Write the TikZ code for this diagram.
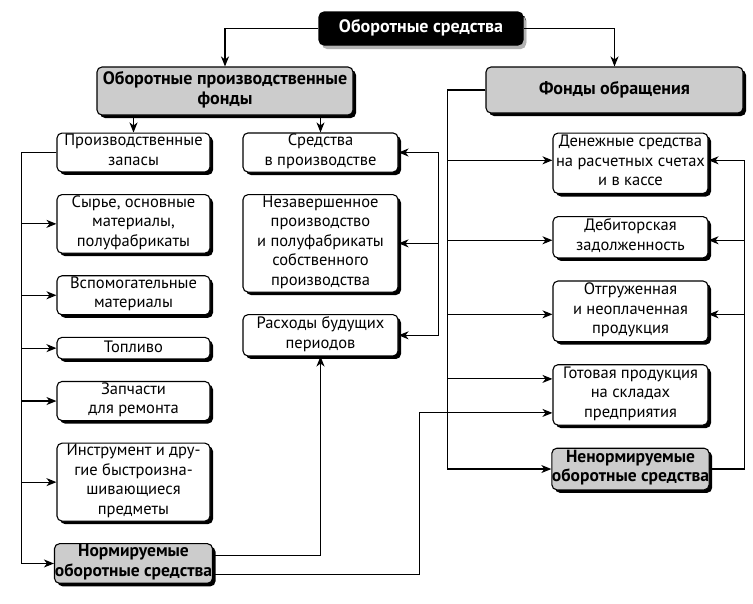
\documentclass[tikz,border=0pt]{standalone}
\usepackage{fontspec}
\setmainfont{PT Sans}
\usepackage{tikz}
\usetikzlibrary{positioning, arrows.meta, shadows}

\begin{document}
\begin{tikzpicture}[
        x=1pt, y=-1pt,
        node distance=21.5pt,
        >={Stealth[length=10pt, width=8pt, inset=3pt]},
        line width=1.1pt,
        box/.style={rectangle, draw, rounded corners=5pt, fill=white, minimum width=153pt, align=center, inner xsep=0pt, inner ysep=1pt, font=\fontsize{16.5}{19.5}\selectfont, execute at begin node=\strut, execute at end node=\strut, drop shadow={shadow xshift=3pt, shadow yshift=-3pt, fill=black, opacity=1}},
        midbox/.style={box, minimum width=155pt},
        rbox/.style={midbox, inner ysep=2pt},
        graybox/.style={box, fill=black!20, font=\fontsize{17.5}{19.5}\selectfont\bfseries},
        headbox/.style={graybox, font=\fontsize{18}{20}\selectfont\bfseries},
        topbox/.style={box, fill=black, text=white, minimum width=204pt, minimum height=33pt, font=\fontsize{18}{20}\selectfont\bfseries, drop shadow={shadow xshift=3pt, shadow yshift=-4pt, fill=black!30, opacity=1}}
    ]
        \useasboundingbox (0,0) rectangle (753,603);

        % Top level
        \node (os) [topbox] at (421,28.5) {Оборотные средства};
        \node (opf) [headbox, minimum width=256pt, minimum height=48pt] at (225,91) {Оборотные производственные\\фонды};
        \node (fo) [headbox, minimum width=257pt, minimum height=46pt] at (614.5,90) {Фонды обращения};

        % Left column (stocks)
        \node (zap) [box] at (133.5,152.5) {Производственные\\запасы};
        \node (syr) [box, below=of zap] {Сырье, основные\\материалы,\\полуфабрикаты};
        \node (vsp) [box, below=of syr] {Вспомогательные\\материалы};
        \node (topl) [box, below=of vsp] {Топливо};
        \node (zch) [box, below=of topl] {Запчасти\\для ремонта};
        \node (instr) [box, below=of zch] {Инструмент и дру-\\гие быстроизна-\\шивающиеся\\предметы};
        \node (norm) [graybox, minimum width=158pt, below=of instr] {Нормируемые\\оборотные средства};

        % Middle column
        \node (srp) [midbox] at (320.5,152.5) {Средства\\в производстве};
        \node (nez) [midbox, below=of srp] {Незавершенное\\производство\\и полуфабрикаты\\собственного\\производства};
        \node (rbp) [midbox, inner ysep=2pt, below=of nez] {Расходы будущих\\периодов};

        % Right column
        \node (den) [rbox] at (630.5,163.3) {Денежные средства\\на расчетных счетах\\и в кассе};
        \node (deb) [rbox, below=22pt of den] {Дебиторская\\задолженность};
        \node (otg) [rbox, below=22pt of deb] {Отгруженная\\и неоплаченная\\продукция};
        \node (got) [rbox, below=22pt of otg] {Готовая продукция\\на складах\\предприятия};
        \node (nen) [graybox, minimum width=155pt, inner ysep=2pt, below=22pt of got] {Ненормируемые\\оборотные средства};

        % Top connections
        \draw [->] (os.west) -| (opf);
        \draw [->] (os.east) -| (fo);
        \draw [->] (opf.south -| zap) -- (zap);
        \draw [->] (opf.south -| srp) -- (srp);

        % Left trunk
        \draw [->] (zap.west) -- ++(-35,0) |- (syr.west);
        \draw [->] (zap.west) -- ++(-35,0) |- (vsp.west);
        \draw [->] (zap.west) -- ++(-35,0) |- (topl.west);
        \draw [->] (zap.west) -- ++(-35,0) |- (zch.west);
        \draw [->] (zap.west) -- ++(-35,0) |- (instr.west);
        \draw [->] (zap.west) -- ++(-35,0) |- (norm.west);

        % Middle bracket
        \coordinate [right=40pt of srp.east] (mbr);
        \draw [->] (mbr) -- (srp.east);
        \draw [->] (mbr) |- (nez.east);
        \draw [->] (mbr) |- (rbp.east);

        % Right trunk
        \draw [->] (fo.west) -- ++(-38,0) |- ([yshift=3pt]den.west);
        \draw [->] (fo.west) -- ++(-38,0) |- ([yshift=-3pt]deb.west);
        \draw [->] (fo.west) -- ++(-38,0) |- ([yshift=-3pt]otg.west);
        \draw [->] (fo.west) -- ++(-38,0) |- ([yshift=16pt]got.west);
        \draw [->] (fo.west) -- ++(-38,0) |- (nen.west);

        % Right bracket
        \draw [->] (nen.east) -- ++(35,0) |- ([yshift=3pt]den.east);
        \draw [->] (nen.east) -- ++(35,0) |- ([yshift=-3pt]deb.east);
        \draw [->] (nen.east) -- ++(35,0) |- ([yshift=-3pt]otg.east);

        % Normed assets
        \draw [->] ([yshift=8pt]norm.east) -| (rbp.south);
        \draw [->] ([yshift=-11pt]norm.east) -- ++(206,0) |- ([yshift=-18pt]got.west);
    \end{tikzpicture}
\end{document}
